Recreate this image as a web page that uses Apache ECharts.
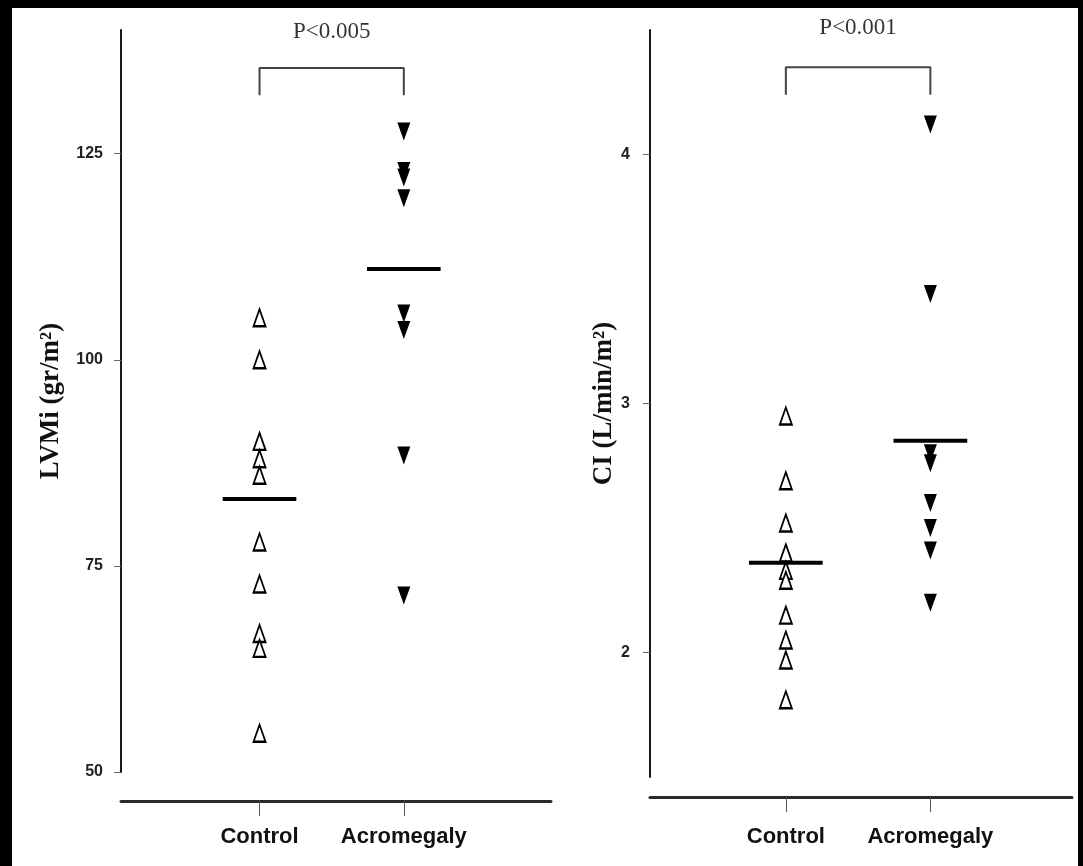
<!DOCTYPE html>
<html>
<head>
<meta charset="utf-8">
<script src="https://cdn.jsdelivr.net/npm/echarts@6/dist/echarts.min.js"></script>
<style>
  html, body { margin: 0; padding: 0; background: #000; width: 1083px; height: 866px; overflow: hidden; }
  #chart { position: absolute; left: 12px; top: 8px; width: 1066px; height: 858px; background: #fff; }
</style>
</head>
<body>
<div id="chart"></div>
<script>
// Groups on the x axis
const categories = ['Control', 'Acromegaly'];

// Left ventricular mass index (g/m²)
const lvmiControl = [105.1, 100.0, 90.1, 88.0, 86.0, 77.9, 72.8, 66.8, 65.0, 54.7];
const lvmiAcromegaly = [127.7, 122.9, 122.1, 119.6, 105.6, 103.6, 88.4, 71.4];
const lvmiGroupLines = [83.1, 111.0];
const lvmiTicks = [50, 75, 100, 125];

// Cardiac index (L/min/m²)
const ciControl = [2.95, 2.69, 2.52, 2.40, 2.33, 2.29, 2.15, 2.05, 1.97, 1.81];
const ciAcromegaly = [4.12, 3.44, 2.80, 2.76, 2.60, 2.50, 2.41, 2.20];
const ciGroupLines = [2.36, 2.85];
const ciTicks = [2, 3, 4];

// Significance brackets: [leg end, top]
const pValues = ['P<0.005', 'P<0.001'];
const lvmiBracket = [132.1, 135.4];
const ciBracket = [4.24, 4.35];

const SANS = '"Liberation Sans", Arial, Helvetica, sans-serif';
const SERIF = '"Liberation Serif", "Times New Roman", Times, serif';
const HALF = 0.255; // half-width of the group line, in x units

function xAxisFor(gridIndex, min, max, offset, margin) {
  return {
    gridIndex, type: 'value', min, max, offset,
    axisLine: { show: true, onZero: false, lineStyle: { color: '#2a2a2a', width: 3 } },
    axisTick: { show: true, customValues: [1, 2], length: 15, lineStyle: { color: '#555', width: 1 } },
    axisLabel: {
      customValues: [1, 2], margin,
      formatter: v => categories[Math.round(v) - 1] || '',
      fontFamily: SANS, fontWeight: 'bold', fontSize: 22, color: '#111'
    },
    splitLine: { show: false }
  };
}

function yAxisFor(gridIndex, min, max, interval, ticks, name, nameGap, margin) {
  return {
    gridIndex, type: 'value', min, max, interval,
    axisLine: { show: true, lineStyle: { color: '#1a1a1a', width: 2 } },
    axisTick: { show: true, customValues: ticks, length: 7, lineStyle: { color: '#666', width: 1 } },
    axisLabel: {
      customValues: ticks, margin,
      fontFamily: SANS, fontWeight: 'bold', fontSize: 16, color: '#222'
    },
    splitLine: { show: false },
    name, nameLocation: 'middle', nameRotate: 90, nameGap,
    nameTextStyle: { fontFamily: SERIF, fontWeight: 'bold', fontSize: 27, color: '#111' }
  };
}

function panelSeries(idx, control, acro, groupLines, bracket, pText, pDist) {
  const s = [];
  s.push({
    type: 'scatter', xAxisIndex: idx, yAxisIndex: idx,
    data: control.map(v => [1, v]),
    symbol: 'triangle', symbolSize: [12, 17],
    itemStyle: { color: '#fff', borderColor: '#000', borderWidth: 2, opacity: 1 }
  });
  s.push({
    type: 'scatter', xAxisIndex: idx, yAxisIndex: idx,
    data: acro.map(v => [2, v]),
    symbol: 'triangle', symbolRotate: 180, symbolSize: [13, 18],
    itemStyle: { color: '#000', opacity: 1 }
  });
  groupLines.forEach((m, i) => {
    const cx = i + 1;
    s.push({
      type: 'line', xAxisIndex: idx, yAxisIndex: idx, z: 4,
      data: [[cx - HALF, m], [cx + HALF, m]],
      symbol: 'none', lineStyle: { color: '#000', width: 4 }
    });
  });
  s.push({
    type: 'line', xAxisIndex: idx, yAxisIndex: idx,
    data: [[1, bracket[0]], [1, bracket[1]], [2, bracket[1]], [2, bracket[0]]],
    symbol: 'none', lineStyle: { color: '#444', width: 2 }
  });
  s.push({
    type: 'scatter', xAxisIndex: idx, yAxisIndex: idx, silent: true,
    data: [[1.5, bracket[1]]], symbolSize: 0,
    label: {
      show: true, position: 'top', distance: pDist, formatter: pText,
      fontFamily: SERIF, fontSize: 23, color: '#000'
    }
  });
  return s;
}

const chart = echarts.init(document.getElementById('chart'), null, { renderer: 'canvas' });
chart.setOption({
  animation: false,
  backgroundColor: '#fff',
  grid: [
    { left: 109, top: 22, width: 430, height: 742 },
    { left: 638, top: 22, width: 422, height: 747 }
  ],
  xAxis: [
    xAxisFor(0, 0.04, 3.02, 29, 25),
    xAxisFor(1, 0.06, 2.98, 20, 29)
  ],
  yAxis: [
    yAxisFor(0, 50, 140, 25, lvmiTicks, 'LVMi (gr/m²)', 56, 18),
    yAxisFor(1, 1.5, 4.5, 0.5, ciTicks, 'CI (L/min/m²)', 32, 20)
  ],
  series: [
    ...panelSeries(0, lvmiControl, lvmiAcromegaly, lvmiGroupLines, lvmiBracket, pValues[0], 24),
    ...panelSeries(1, ciControl, ciAcromegaly, ciGroupLines, ciBracket, pValues[1], 28)
  ]
});
</script>
</body>
</html>
